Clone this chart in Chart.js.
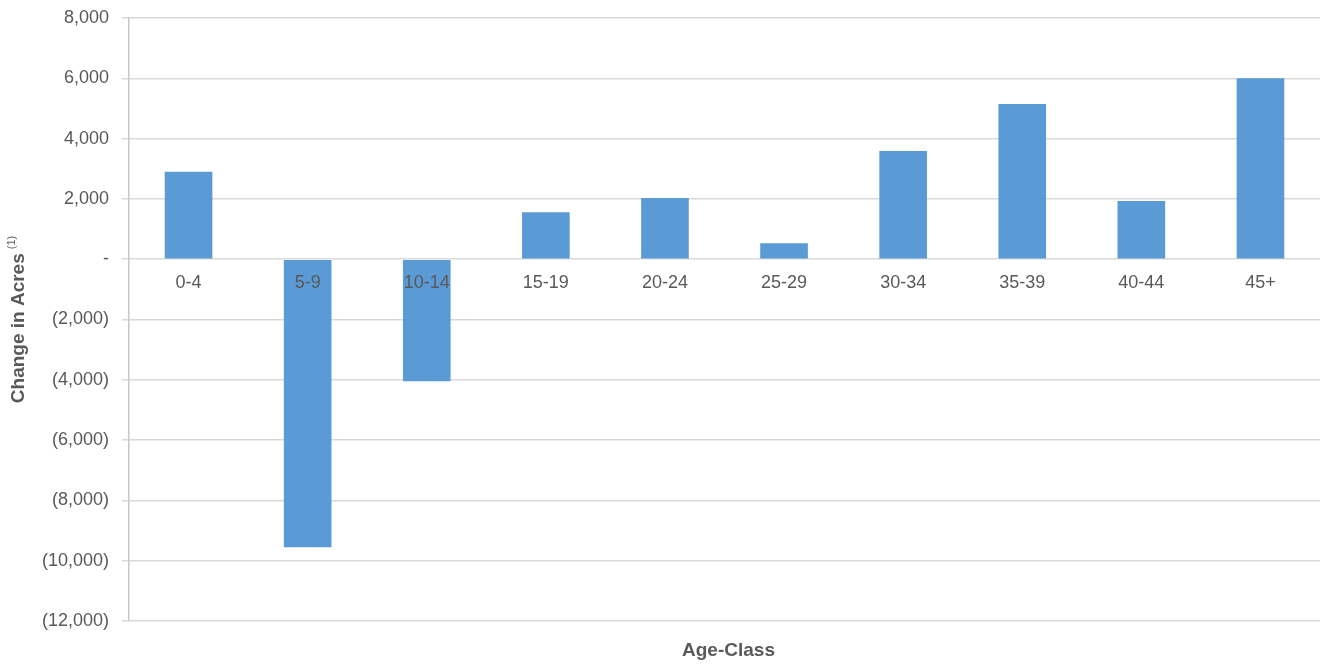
<!DOCTYPE html>
<html>
<head>
<meta charset="utf-8">
<script src="https://cdn.jsdelivr.net/npm/chart.js@4.4.1/dist/chart.umd.min.js"></script>
<style>
  html, body { margin: 0; padding: 0; background: #fff; }
  #wrap { width: 1327px; height: 666px; }
</style>
</head>
<body>
<div id="wrap"><canvas id="chart"></canvas></div>
<script>
const ageClasses = ["0-4", "5-9", "10-14", "15-19", "20-24", "25-29", "30-34", "35-39", "40-44", "45+"];
const acreChange = [2900, -9550, -4050, 1560, 2030, 530, 3590, 5150, 1930, 6000];
const yMin = -12000;
const yMax = 8000;
const yStep = 2000;
const xTitle = "Age-Class";
const yTitle = "Change in Acres";
const yTitleNote = "(1)";

const textColor = "#595959";
const fontFamily = "'Liberation Sans', Arial, sans-serif";

function formatAcres(value) {
  if (value === 0) return "-";
  const s = Math.abs(value).toLocaleString("en-US");
  return value < 0 ? "(" + s + ")" : s;
}

// axis titles drawn by hand so the "(1)" note can be a small superscript
const axisTitles = {
  id: "axisTitles",
  afterDraw: (chart) => {
    const { ctx, chartArea } = chart;
    ctx.save();
    ctx.fillStyle = textColor;
    ctx.textBaseline = "middle";
    ctx.textAlign = "center";
    ctx.font = "bold 19px " + fontFamily;
    ctx.fillText(xTitle, (chartArea.left + chartArea.right) / 2 + 4, chartArea.bottom + 30);

    const wMain = ctx.measureText(yTitle).width;
    ctx.font = "11px " + fontFamily;
    const wNote = ctx.measureText(yTitleNote).width;
    const total = wMain + 4 + wNote;
    ctx.translate(19, (chartArea.top + chartArea.bottom) / 2);
    ctx.rotate(-Math.PI / 2);
    ctx.textAlign = "left";
    ctx.font = "bold 19px " + fontFamily;
    ctx.fillText(yTitle, -total / 2, 0);
    ctx.font = "11px " + fontFamily;
    ctx.fillText(yTitleNote, -total / 2 + wMain + 4, -7);
    ctx.restore();
  },
};

const ctx = document.getElementById("chart").getContext("2d");

new Chart(ctx, {
  type: "bar",
  data: {
    labels: ageClasses,
    datasets: [
      {
        label: yTitle,
        data: acreChange,
        backgroundColor: "#5b9bd5",
        borderWidth: 0,
        barPercentage: 0.4,
        categoryPercentage: 1,
      },
    ],
  },
  options: {
    responsive: true,
    maintainAspectRatio: false,
    animation: false,
    layout: {
      padding: { top: 18, right: 7, left: 0, bottom: 45 },
    },
    plugins: {
      legend: { display: false },
      tooltip: { enabled: false },
    },
    scales: {
      x: {
        position: { y: 0 },
        grid: { display: false, drawTicks: false },
        border: { display: false },
        ticks: {
          z: 1,
          color: textColor,
          padding: 13,
          font: { family: fontFamily, size: 18 },
          maxRotation: 0,
          autoSkip: false,
        },
        afterFit: (scale) => {
          scale.paddingTop = 0;
          scale.paddingBottom = 0;
        },
      },
      y: {
        min: yMin,
        max: yMax,
        afterFit: (scale) => {
          scale.width = 129;
          scale.paddingTop = 0;
          scale.paddingBottom = 0;
        },
        ticks: {
          stepSize: yStep,
          callback: formatAcres,
          color: textColor,
          padding: 13,
          font: { family: fontFamily, size: 18 },
        },
        grid: {
          color: "#d9d9d9",
          lineWidth: 1.5,
          tickLength: 7,
        },
        border: { display: true, color: "#c8c8c8", width: 1.5 },
      },
    },
  },
  plugins: [axisTitles],
});
</script>
</body>
</html>
